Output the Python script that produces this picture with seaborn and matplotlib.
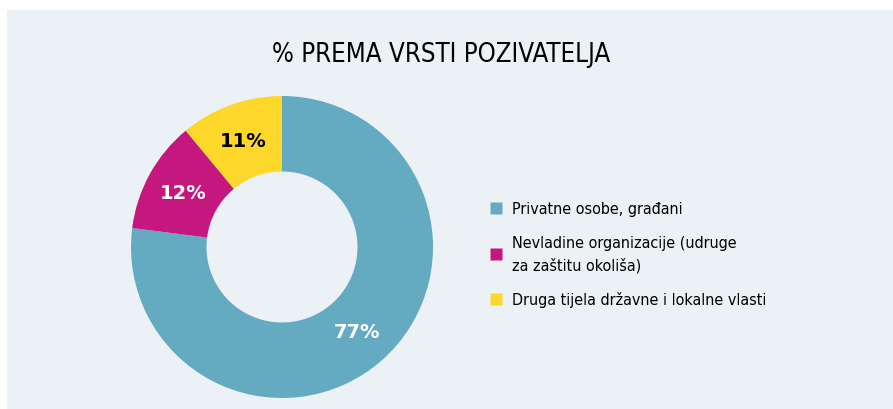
import matplotlib
matplotlib.use("Agg")
import matplotlib.pyplot as plt
import seaborn as sns
from matplotlib.patches import Rectangle
from matplotlib.lines import Line2D

# --- Data ---
TITLE = "% PREMA VRSTI POZIVATELJA"
categories = [
    "Privatne osobe, građani",
    "Nevladine organizacije (udruge\nza zaštitu okoliša)",
    "Druga tijela državne i lokalne vlasti",
]
shares = [77, 12, 11]
colors = ["#64aac1", "#c4187e", "#fdd82b"]
label_colors = ["white", "white", "black"]

BG = "#ecf1f5"

sns.set_theme(style="white")
plt.rcParams['font.family'] = ['DejaVu Sans']
plt.rcParams['font.stretch'] = 'condensed'

fig = plt.figure(figsize=(8.93, 4.10), dpi=100, facecolor="white")

# light panel behind the chart
fig.patches.append(Rectangle((7 / 893, 0), 1, (410 - 11) / 410,
                             transform=fig.transFigure, facecolor=BG,
                             edgecolor="none", zorder=-1))

fig.text(441 / 893, 1 - 55 / 410, TITLE, ha="center", va="center",
         fontsize=18.5, color="black", fontstretch="condensed")

# donut
ax = fig.add_axes([(282 - 151) / 893, (162 - 151) / 410, 302 / 893, 302 / 410])
ax.set_facecolor("none")
wedges, texts, autotexts = ax.pie(
    shares, colors=colors, startangle=90, counterclock=False,
    wedgeprops=dict(width=0.5, edgecolor="none"),
    autopct=lambda p: f"{p:.0f}%", pctdistance=0.75,
)
for t, c in zip(autotexts, label_colors):
    t.set_color(c)
    t.set_fontsize(14)
    t.set_fontweight("bold")
    t.set_fontstretch("normal")
ax.set_xlim(-1, 1)
ax.set_ylim(-1, 1)
ax.set_aspect("equal")
ax.axis("off")

# legend
handles = [Line2D([0], [0], marker="s", linestyle="none", markersize=8.5,
                  markerfacecolor=c, markeredgecolor="none") for c in colors]
leg = fig.legend(handles, categories, loc="upper left",
                 bbox_to_anchor=(482 / 893, 1 - 196 / 410), frameon=False,
                 handletextpad=0.45, handlelength=1.0,
                 labelspacing=1.15, borderaxespad=0,
                 prop=dict(size=11.5, stretch="condensed"))
for t in leg.get_texts():
    t.set_color("black")
    t.set_linespacing(1.6)

fig.savefig("out.png", dpi=100, facecolor="white")
